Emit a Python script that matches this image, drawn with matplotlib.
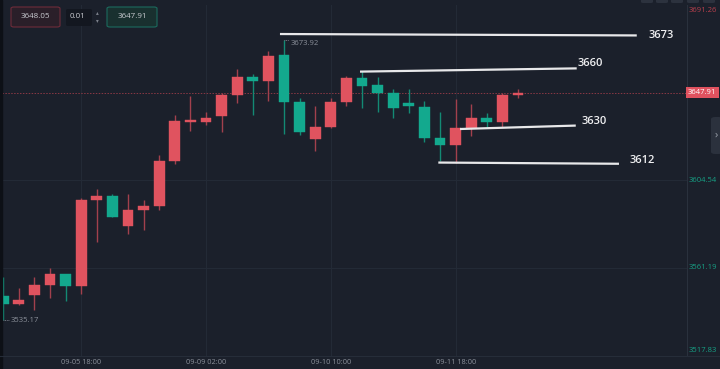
import matplotlib
matplotlib.use("Agg")
import matplotlib.pyplot as plt
from matplotlib.patches import FancyBboxPatch, Rectangle
from matplotlib.lines import Line2D

plt.rcParams['font.family'] = ['Open Sans', 'DejaVu Sans']

# ---- candle data (4h bars) ----
opens  = [3547.2, 3543.4, 3547.6, 3552.8, 3558.0, 3552.4, 3594.7, 3596.9, 3582.0, 3589.8,
          3591.6, 3614.0, 3633.6, 3633.6, 3636.5, 3646.6, 3655.6, 3653.8, 3666.4, 3643.2,
          3625.2, 3631.1, 3643.3, 3655.3, 3651.7, 3647.8, 3642.7, 3641.0, 3625.4, 3622.1,
          3630.3, 3635.3, 3633.6, 3646.6]
closes = [3543.4, 3545.2, 3552.6, 3558.0, 3552.4, 3594.7, 3596.9, 3586.6, 3589.8, 3591.8,
          3614.0, 3633.8, 3633.9, 3635.5, 3646.7, 3655.6, 3653.7, 3666.2, 3643.2, 3628.6,
          3630.9, 3643.5, 3655.3, 3651.3, 3647.6, 3640.2, 3641.5, 3625.4, 3622.1, 3630.3,
          3635.3, 3633.6, 3646.7, 3647.91]
highs  = [3556.5, 3551.4, 3556.7, 3561.3, 3558.2, 3595.7, 3600.2, 3597.5, 3597.5, 3594.7,
          3617.1, 3637.0, 3646.4, 3638.2, 3647.9, 3659.4, 3657.1, 3668.6, 3673.92, 3645.4,
          3641.2, 3645.3, 3656.3, 3658.8, 3655.8, 3649.9, 3649.6, 3643.8, 3638.5, 3644.8,
          3642.2, 3638.0, 3647.9, 3649.6]
lows   = [3535.17, 3542.7, 3540.2, 3546.3, 3545.0, 3548.3, 3573.8, 3586.4, 3578.1, 3579.7,
          3589.6, 3612.8, 3629.1, 3632.1, 3628.6, 3642.9, 3636.9, 3643.8, 3627.3, 3627.0,
          3619.2, 3630.3, 3641.2, 3640.5, 3638.5, 3635.3, 3638.0, 3623.7, 3614.3, 3613.0,
          3626.5, 3630.8, 3631.1, 3645.1]

time_ticks = [5, 13, 21, 29]
time_labels = ['09-05 18:00', '09-09 02:00', '09-10 10:00', '09-11 18:00']

price_min, price_max = 3517.83, 3691.26
price_grid = [3604.54, 3561.19]
last_price = 3647.91
high_label, high_idx = 3673.92, 18
low_label, low_idx = 3535.17, 0

# hand drawn levels
level_text = ['3673', '3660', '3630', '3612']
level_x0 = [17.74, 22.87, 29.28, 27.89]
level_x1 = [40.61, 36.76, 36.70, 39.47]
level_y0 = [3676.9, 3658.3, 3629.9, 3613.3]
level_y1 = [3676.2, 3659.9, 3631.6, 3612.7]
level_tx = [42.2, 37.65, 37.87, 40.95]
level_ty = [3676.4, 3662.4, 3633.6, 3614.2]

# ---- style ----
BG = '#1b202b'
GRID = '#232a36'
UP = '#e0535f'
DOWN = '#13a98e'
UP_WICK = '#a2404d'
DOWN_WICK = '#138a74'
TXT = '#8b909a'

W, H = 720, 369
fig = plt.figure(figsize=(7.2, 3.69), dpi=100, facecolor=BG)
ax = fig.add_axes([2 / W, 1 - 355.5 / H, 685 / W, 350.5 / H], facecolor=BG)

ax.set_xlim(-0.077, 43.83)
ax.set_ylim(price_min, price_max)

# grid
for t in time_ticks:
    ax.axvline(t, color=GRID, lw=0.8, zorder=0)
for g in price_grid:
    ax.axhline(g, color=GRID, lw=0.8, zorder=0)

# candles
for i, (o, c, h, l) in enumerate(zip(opens, closes, highs, lows)):
    up = c >= o
    col = UP if up else DOWN
    wcol = UP_WICK if up else DOWN_WICK
    ax.vlines(i, l, h, color=wcol, lw=1.0, zorder=2)
    bottom = min(o, c)
    height = max(abs(c - o), 0.7)
    ax.bar(i, height, bottom=bottom, width=0.69, color=col, edgecolor=col, lw=0.3, zorder=3)

# current price dotted line
ax.axhline(last_price, color='#8a3844', lw=0.7, ls=(0, (1.5, 1.5)), zorder=1)

# hand drawn support / resistance
for txt, x0, x1, y0, y1, tx, ty in zip(level_text, level_x0, level_x1, level_y0, level_y1,
                                        level_tx, level_ty):
    ax.plot([x0, x1], [y0, y1], color='#e8e8ea', lw=1.6, solid_capstyle='butt', zorder=5)
    ax.text(tx, ty, txt, color='#f0f0f2', fontsize=8, fontweight='semibold',
            ha='center', va='center', zorder=6)

# high / low labels
ax.plot([high_idx, high_idx + 0.35], [high_label, high_label], color=TXT, lw=0.6, ls=(0, (1, 1)))
ax.text(high_idx + 0.4, high_label, f'{high_label:.2f}', color=TXT, fontsize=5.5,
        ha='left', va='top')
ax.plot([low_idx, low_idx + 0.4], [low_label, low_label], color=TXT, lw=0.6, ls=(0, (1, 1)))
ax.text(low_idx + 0.45, low_label, f'{low_label:.2f}', color=TXT, fontsize=5.5,
        ha='left', va='center')

# axes cosmetics
for s in ['top', 'left', 'bottom']:
    ax.spines[s].set_visible(False)
ax.spines['right'].set_color('#2a313d')
ax.spines['right'].set_linewidth(0.8)
ax.set_yticks([])
ax.set_xticks(time_ticks)
ax.set_xticklabels(time_labels, fontsize=5.3, color=TXT)
ax.tick_params(axis='x', length=0, pad=2.5)

fig.add_artist(Line2D([0, 1], [1 - 355.5 / H] * 2, color='#262d39', lw=0.8,
                      transform=fig.transFigure))
fig.add_artist(Rectangle((0, 0), 2 / W, 1, color='#0d1016', transform=fig.transFigure))

# price axis labels
yt = ax.get_yaxis_transform()
ax.text(1.003, 0.995, f'{price_max:.2f}', transform=ax.transAxes, color='#b8404d',
        fontsize=5.5, ha='left', va='top')
for g in price_grid:
    ax.text(1.003, g, f'{g:.2f}', transform=yt, color='#17a085', fontsize=5.5,
            ha='left', va='center', clip_on=False)
ax.text(1.003, 0.005, f'{price_min:.2f}', transform=ax.transAxes, color='#17a085',
        fontsize=5.5, ha='left', va='bottom')
ax.text(1.0015, last_price, f'{last_price:.2f}', transform=yt, color='white', fontsize=5.5,
        ha='left', va='center', clip_on=False,
        bbox=dict(boxstyle='square,pad=0.3', fc='#e0525f', ec='none'))

# right side tab
fig.add_artist(FancyBboxPatch((711 / W, 1 - 154 / H), 12 / W, 37 / H,
                              boxstyle='round,pad=0,rounding_size=0.006',
                              fc='#2b313d', ec='none', transform=fig.transFigure))
fig.text(716 / W, 1 - 135 / H, '›', color='#9aa0aa', fontsize=8, ha='center', va='center')

# top-right small buttons
for bx0, bx1 in [(641, 653), (656, 668), (671, 683), (687, 699), (703, 715)]:
    fig.add_artist(FancyBboxPatch((bx0 / W, 1 - 3 / H), (bx1 - bx0) / W, 4 / H,
                                  boxstyle='round,pad=0,rounding_size=0.003',
                                  fc='#2c323e', ec='none', transform=fig.transFigure))

# top-left order widgets
fig.add_artist(FancyBboxPatch((11 / W, 1 - 27 / H), 49 / W, 20 / H,
                              boxstyle='round,pad=0,rounding_size=0.004',
                              fc='#2a1f29', ec='#6e2c3a', lw=0.8, transform=fig.transFigure))
fig.text(35.5 / W, 1 - 17 / H, '3648.05', color='#c9cbd1', fontsize=5.8, ha='center', va='center')
fig.add_artist(FancyBboxPatch((66 / W, 1 - 26 / H), 26 / W, 17 / H,
                              boxstyle='round,pad=0,rounding_size=0.003',
                              fc='#131720', ec='none', transform=fig.transFigure))
fig.text(78 / W, 1 - 17 / H, '0.01', color='#c9cbd1', fontsize=5.8, ha='center', va='center')
fig.text(97 / W, 1 - 13 / H, '▴', color='#7d828c', fontsize=4, ha='center', va='center')
fig.text(97 / W, 1 - 21 / H, '▾', color='#7d828c', fontsize=4, ha='center', va='center')
fig.add_artist(FancyBboxPatch((107 / W, 1 - 27 / H), 50 / W, 20 / H,
                              boxstyle='round,pad=0,rounding_size=0.004',
                              fc='#19302f', ec='#1c6b5e', lw=0.8, transform=fig.transFigure))
fig.text(132 / W, 1 - 17 / H, '3647.91', color='#c9cbd1', fontsize=5.8, ha='center', va='center')

fig.savefig('out.png', dpi=100, facecolor=BG)
